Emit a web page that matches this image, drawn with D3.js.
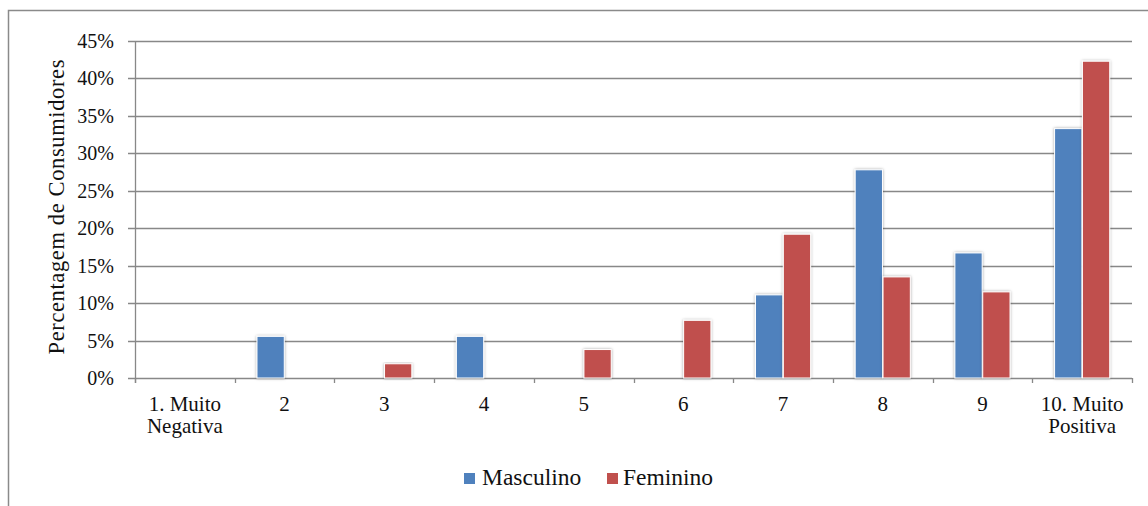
<!DOCTYPE html>
<html><head><meta charset="utf-8">
<script src="https://cdn.jsdelivr.net/npm/d3@7"></script>
<style>body{margin:0;background:#fff}svg{display:block}</style>
</head><body>
<svg id="c" width="1148" height="506"></svg>
<script>
const categories = ["1. Muito\nNegativa","2","3","4","5","6","7","8","9","10. Muito\nPositiva"];
const masculino = [0, 5.56, 0, 5.56, 0, 0, 11.1, 27.8, 16.7, 33.3];
const feminino  = [0, 0, 1.9, 0, 3.8, 7.7, 19.2, 13.5, 11.5, 42.3];
const seriesNames = ["Masculino","Feminino"];
const seriesColors = ["#4F81BD","#C0504D"];
const yTicks = [0,5,10,15,20,25,30,35,40,45];

const svg = d3.select("#c");
const font = "'Liberation Serif','Times New Roman','DejaVu Serif',serif";
const L = 135, R = 1132, T = 41, B = 378;

// outer frame
svg.append("path").attr("d", "M8.5,506 L8.5,10.5 L1148,10.5")
  .attr("fill","none").attr("stroke","#8a8a8a").attr("stroke-width",1.5);

const defs = svg.append("defs");
const f = defs.append("filter").attr("id","sh").attr("x","-30%").attr("y","-10%").attr("width","160%").attr("height","130%");
f.append("feDropShadow").attr("dx",0).attr("dy",0).attr("stdDeviation",1.6).attr("flood-color","#000").attr("flood-opacity",0.35);

const x = d3.scaleBand().domain(d3.range(categories.length)).range([L,R]).paddingInner(0).paddingOuter(0);
const xs = d3.scaleBand().domain([0,1]).range([0,x.bandwidth()]).paddingInner(0.02).paddingOuter(0.8);
const y = d3.scaleLinear().domain([0,45]).range([B,T]);

// gridlines
svg.append("g").selectAll("line").data(yTicks).join("line")
  .attr("x1",L-7).attr("x2",R).attr("y1",d=>Math.round(y(d))+0.5).attr("y2",d=>Math.round(y(d))+0.5)
  .attr("stroke","#888").attr("stroke-width",1.3);

// y axis line
svg.append("line").attr("x1",L+0.5).attr("x2",L+0.5).attr("y1",T).attr("y2",B+5)
  .attr("stroke","#888").attr("stroke-width",1.3);
// x axis ticks
const xt = d3.range(categories.length+1).map(i => i===categories.length ? R : x(i));
svg.append("g").selectAll("line").data(xt).join("line")
  .attr("x1",d=>Math.round(d)+0.5).attr("x2",d=>Math.round(d)+0.5).attr("y1",B).attr("y2",B+5)
  .attr("stroke","#888").attr("stroke-width",1.3);

// y tick labels
svg.append("g").selectAll("text").data(yTicks).join("text")
  .attr("x",114).attr("y",d=>y(d)+7).attr("text-anchor","end")
  .attr("font-family",font).attr("font-size",20).attr("fill","#111")
  .text(d=>d+"%");

// y title
svg.append("text").attr("transform",`translate(64,207) rotate(-90)`)
  .attr("text-anchor","middle").attr("font-family",font).attr("font-size",22.5).attr("fill","#111")
  .attr("textLength",295).attr("lengthAdjust","spacing")
  .text("Percentagem de Consumidores");

// bars
const data = [masculino, feminino];
data.forEach((vals, s) => {
  svg.append("g").selectAll("rect").data(vals.map((v,i)=>({v,i})).filter(d=>d.v>0)).join("rect")
    .attr("x",d=>x(d.i)+xs(s)).attr("width",xs.bandwidth())
    .attr("y",d=>y(d.v)).attr("height",d=>B-y(d.v))
    .attr("fill",seriesColors[s]).attr("stroke","#fff").attr("stroke-width",1)
    .attr("filter","url(#sh)");
});

// x labels
const xl = svg.append("g");
categories.forEach((c,i) => {
  const lines = c.split("\n");
  const t = xl.append("text").attr("text-anchor","middle").attr("font-family",font)
    .attr("font-size",21).attr("fill","#111");
  lines.forEach((ln,j) => t.append("tspan").attr("x",x(i)+x.bandwidth()/2).attr("y",410.5+j*22.5).text(ln));
});

// legend
const leg = [{x:464, tx:482}, {x:607, tx:623}];
seriesNames.forEach((n,s)=>{
  svg.append("rect").attr("x",leg[s].x).attr("y",473).attr("width",11).attr("height",11)
    .attr("fill",seriesColors[s]);
  svg.append("text").attr("x",leg[s].tx).attr("y",485).attr("font-family",font).attr("font-size",23.5)
    .attr("fill","#111").text(n);
});
</script>
</body></html>
